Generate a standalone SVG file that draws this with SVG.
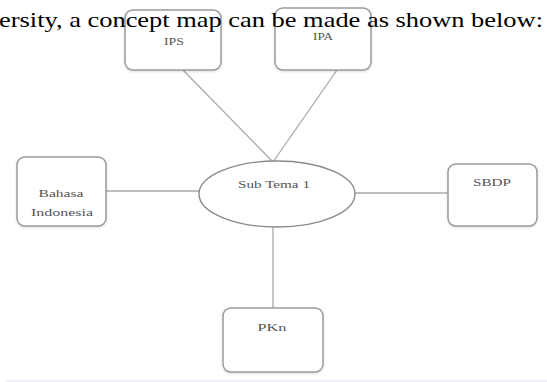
<svg xmlns="http://www.w3.org/2000/svg" width="547" height="382" viewBox="0 0 547 382">
<defs>
<filter id="sh" x="-10%" y="-10%" width="120%" height="125%">
<feDropShadow dx="0" dy="1" stdDeviation="0.8" flood-color="#000" flood-opacity="0.15"/>
</filter>
<style>
.box{fill:#fff;stroke:#9a9a9a;stroke-width:1.5;filter:url(#sh)}
.lbl{font-family:"Liberation Serif",serif;font-size:11px;fill:#555;text-anchor:middle}
.conn line{stroke:#a8a8a8;stroke-width:1.3}
.cap{font-family:"Liberation Serif",serif;font-size:21px;fill:#000}
</style>
</defs>
<rect width="547" height="382" fill="#fff"/>
<g id="connectors" class="conn">
<line x1="183" y1="70" x2="273" y2="162"/>
<line x1="337" y1="70" x2="273" y2="162"/>
<line x1="106" y1="191" x2="200" y2="191"/>
<line x1="354" y1="193" x2="448" y2="193"/>
<line x1="273" y1="227" x2="273" y2="308"/>
</g>
<g id="ips">
<rect class="box" x="125" y="10" width="96" height="60" rx="8"/>
<text class="lbl" x="174" y="45" textLength="20" lengthAdjust="spacingAndGlyphs">IPS</text>
</g>
<g id="ipa">
<rect class="box" x="275" y="8" width="96" height="62" rx="8"/>
<text class="lbl" x="323" y="40" textLength="20" lengthAdjust="spacingAndGlyphs">IPA</text>
</g>
<text class="cap" x="-1" y="26.5" textLength="544" lengthAdjust="spacingAndGlyphs">ersity, a concept map can be made as shown below:</text>
<g id="bahasa">
<rect class="box" x="17" y="157" width="89" height="69" rx="8"/>
<text class="lbl" x="61" y="197" textLength="45" lengthAdjust="spacingAndGlyphs">Bahasa</text>
<text class="lbl" x="62" y="216" textLength="62" lengthAdjust="spacingAndGlyphs">Indonesia</text>
</g>
<g id="subtema">
<ellipse cx="277" cy="194" rx="78" ry="33" fill="#fff" stroke="#8a8a8a" stroke-width="1.4"/>
<text class="lbl" x="274" y="188" font-size="12" textLength="72" lengthAdjust="spacingAndGlyphs">Sub Tema 1</text>
</g>
<g id="sbdp">
<rect class="box" x="448" y="164" width="89" height="62" rx="8"/>
<text class="lbl" x="492" y="186" textLength="38" lengthAdjust="spacingAndGlyphs">SBDP</text>
</g>
<g id="pkn">
<rect class="box" x="223" y="308" width="100" height="64" rx="8"/>
<text class="lbl" x="272" y="331" textLength="29" lengthAdjust="spacingAndGlyphs">PKn</text>
</g>
<line x1="5" y1="381" x2="547" y2="381" stroke="#eef2f8" stroke-width="2"/>
</svg>
